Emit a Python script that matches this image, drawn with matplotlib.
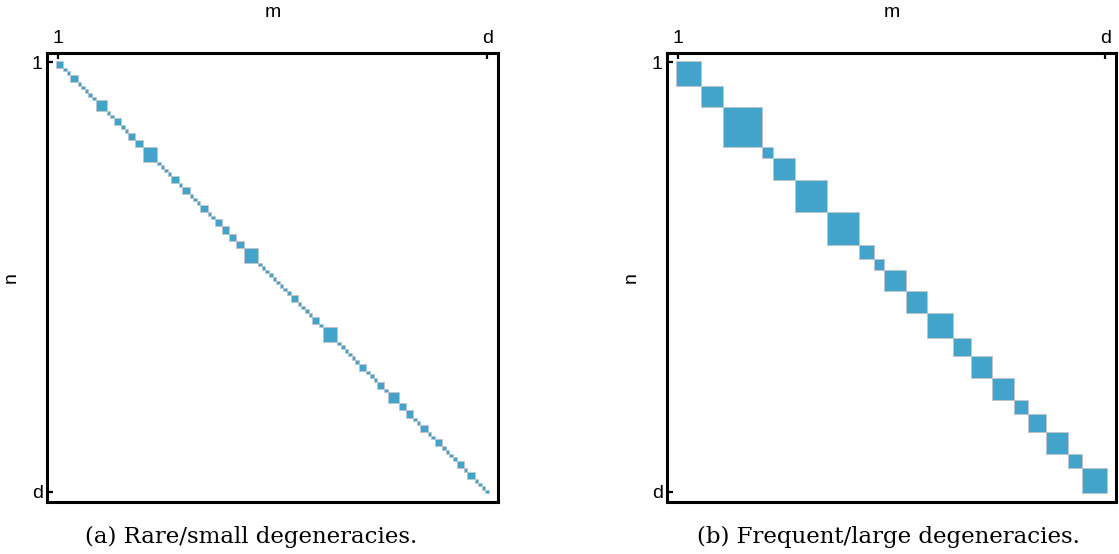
import matplotlib
matplotlib.use('Agg')
import matplotlib.pyplot as plt
from matplotlib.patches import Rectangle

# block sizes along the diagonal (d = 120 in both panels)
blocks_a = [2, 1, 1, 2, 1, 1, 1, 1, 1, 3, 1, 1, 2, 1, 1, 2, 2, 4, 1, 1,
            1, 1, 2, 1, 2, 1, 1, 1, 2, 1, 1, 2, 2, 2, 2, 4,
            1, 1, 1, 1, 1, 1, 1, 1, 1, 2, 1, 1, 1, 1, 2, 1, 4, 1, 1, 1,
            1, 1, 1, 2, 1, 1, 1, 2, 1, 3, 2, 2, 1, 1, 2, 1, 1, 2, 1, 1,
            1, 1, 2, 1, 2, 1, 1, 1, 1]
blocks_b = [7, 6, 11, 3, 6, 9, 9, 4, 3, 6, 6, 7, 5, 6, 6, 4, 5, 6, 4, 7]
captions = ["(a) Rare/small degeneracies.", "(b) Frequent/large degeneracies."]
tick_labels = ["1", "d"]

plt.rcParams['font.family'] = ['Liberation Sans', 'DejaVu Sans']

W, H = 1119, 554
fig = plt.figure(figsize=(W / 100, H / 100), dpi=100)
blue = '#42a3cb'

def px_axes(x0, y0, x1, y1):
    return fig.add_axes([x0 / W, 1 - y1 / H, (x1 - x0) / W, (y1 - y0) / H])

def draw_panel(ax, blocks, caption, cx):
    d = sum(blocks)
    start = 0.5
    for b in blocks:
        ax.add_patch(Rectangle((start, start), b, b, facecolor=blue,
                               edgecolor='#c0c4c8', lw=0.6))
        start += b
    ax.set_xlim(-2, d + 3)
    ax.set_ylim(d + 2.9, -1.6)
    ax.xaxis.tick_top()
    ax.xaxis.set_label_position('top')
    ax.set_xticks([1, d])
    ax.set_yticks([1, d])
    ax.set_xticklabels(tick_labels)
    ax.set_yticklabels(tick_labels)
    ax.tick_params(direction='in', length=4.5, width=1.6, labelsize=14,
                   pad=3)
    ax.tick_params(axis='x', pad=4)
    for s in ax.spines.values():
        s.set_linewidth(2.2)
    ax.set_xlabel('m', fontsize=14, labelpad=10)
    ax.set_ylabel('n', fontsize=14, labelpad=9)
    fig.text(cx / W, 1 - 537 / H, caption, ha='center', va='center',
             fontsize=16.5, family='DejaVu Serif')

ax1 = px_axes(47, 53, 498, 502)
draw_panel(ax1, blocks_a, captions[0], 251)
ax2 = px_axes(667, 53, 1116, 502)
draw_panel(ax2, blocks_b, captions[1], 888)

fig.savefig('out.png', dpi=100)
